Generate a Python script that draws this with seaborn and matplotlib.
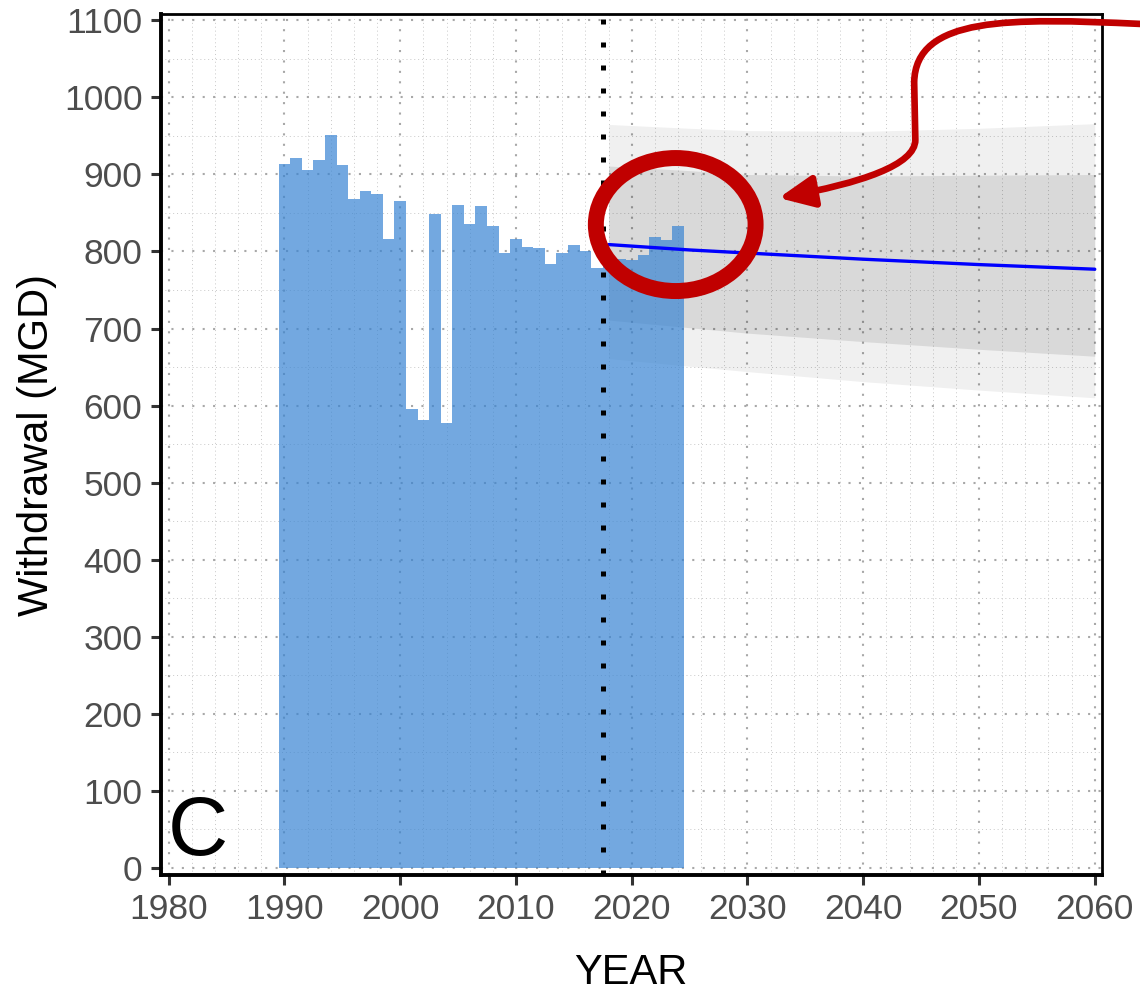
import numpy as np
import matplotlib
matplotlib.use("Agg")
import matplotlib.pyplot as plt
from matplotlib.patches import Ellipse, FancyArrowPatch
from matplotlib.path import Path
from matplotlib.ticker import MultipleLocator
import seaborn as sns

# observed withdrawals
years = list(range(1990, 2025))
withdrawal = [914, 921, 906, 919, 951, 912, 868, 878, 875, 816,
              865, 595, 581, 849, 577, 860, 836, 859, 833, 798,
              816, 806, 804, 784, 798, 808, 801, 778, 790, 790,
              789, 795, 819, 815, 833]

# projection
fc_years = [2018, 2025, 2030, 2040, 2050, 2060]
fc_mid = [809, 802, 798, 790, 783, 777]
fc_lo80 = [711, 701, 694, 683, 673, 664]
fc_hi80 = [911, 905, 900, 898, 899, 900]
fc_lo95 = [661, 651, 644, 631, 620, 610]
fc_hi95 = [965, 960, 957, 956, 960, 966]

split_year = 2017.5

sns.set_theme(style="white")
plt.rcParams["font.family"] = ["Liberation Sans", "DejaVu Sans"]

fig = plt.figure(figsize=(11.4, 9.93), dpi=100)
ax = fig.add_axes([0.1408, 0.1188, 0.8259, 0.8671])

# grid
ax.set_axisbelow(True)
ax.xaxis.set_major_locator(MultipleLocator(10))
ax.xaxis.set_minor_locator(MultipleLocator(2))
ax.yaxis.set_major_locator(MultipleLocator(100))
ax.yaxis.set_minor_locator(MultipleLocator(50))
ax.grid(which="major", color="#a8a8a8", linewidth=1.5, linestyle=(0, (1, 4)))
ax.grid(which="minor", color="#c8c8c8", linewidth=0.7, linestyle=(0, (1, 3)))

# prediction bands
ax.fill_between(fc_years, fc_lo95, fc_hi95, color="black", alpha=0.059, linewidth=0)
ax.fill_between(fc_years, fc_lo80, fc_hi80, color="black", alpha=0.096, linewidth=0)

# bars
sns.histplot(x=years, weights=withdrawal, discrete=True, color="#3884d3",
             alpha=0.7, linewidth=0, ax=ax)

sns.lineplot(x=fc_years, y=fc_mid, color="blue", linewidth=2.4, ax=ax)

ax.axvline(split_year, color="black", linewidth=3.6, linestyle=(0, (1, 3.6)),
           dash_capstyle="butt", zorder=3)

# annotation: ring + curly arrow
red = "#c00000"
ax.add_patch(Ellipse((2023.8, 835), width=13.8, height=172.7, fill=False,
                     edgecolor=red, linewidth=11.5, zorder=5))
verts = [(2063.97, 1095.5),
         (2052.7, 1103.2), (2044.5, 1105.8), (2044.4, 1019.5),
         (2044.5, 945.0),
         (2044.5, 912.3), (2039.8, 888.9), (2032.7, 869.5)]
codes = [Path.MOVETO, Path.CURVE4, Path.CURVE4, Path.CURVE4,
         Path.LINETO, Path.CURVE4, Path.CURVE4, Path.CURVE4]
arrow = FancyArrowPatch(path=Path(verts, codes),
                        arrowstyle="-|>,head_length=1.05,head_width=0.48",
                        mutation_scale=20, color=red, linewidth=4.8,
                        joinstyle="round", capstyle="round",
                        clip_on=False, zorder=6)
ax.add_patch(arrow)

ax.text(0.008, 0.023, "C", transform=ax.transAxes, fontsize=60,
        color="black", ha="left", va="baseline")

ax.set_xlim(1979.29, 2060.63)
ax.set_ylim(-9.7, 1108.4)
ax.set_xlabel("YEAR", fontsize=30, color="black")
ax.set_ylabel("Withdrawal (MGD)", fontsize=30, color="black")
ax.xaxis.set_label_coords(0.5, -0.0906)
ax.yaxis.set_label_coords(-0.110, 0.5)

ax.tick_params(which="major", direction="out", length=7, width=2.2,
               color="#333333", labelsize=25.5, labelcolor="#4d4d4d", pad=6,
               bottom=True, left=True)
ax.tick_params(which="minor", length=0)

for side in ["left", "bottom"]:
    ax.spines[side].set_linewidth(2.8)
    ax.spines[side].set_color("black")
for side in ["top", "right"]:
    ax.spines[side].set_linewidth(2.0)
    ax.spines[side].set_color("black")

fig.savefig("out.png", dpi=100)
